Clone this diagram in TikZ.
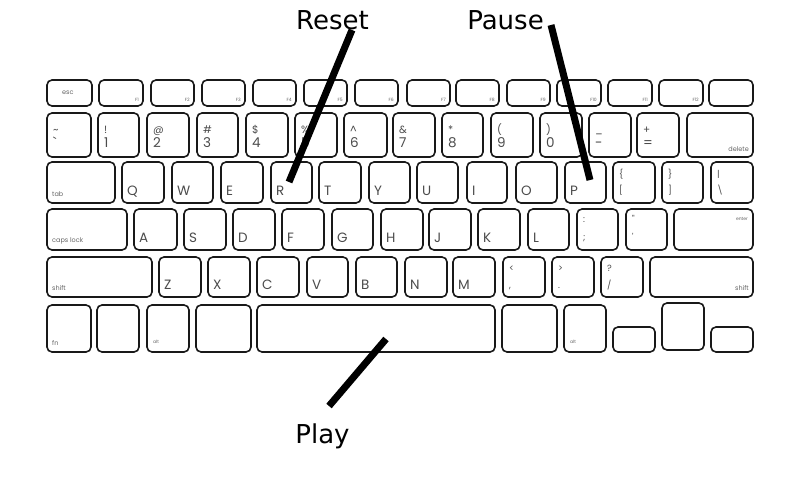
\documentclass[tikz,border=0pt]{standalone}
\usepackage{fontspec}
\newfontfamily\capfont{Poppins}
\newfontfamily\tagfont{DejaVu Sans}
\usetikzlibrary{positioning,backgrounds}
\pgfdeclarelayer{edgelayer}
\pgfdeclarelayer{nodelayer}
\pgfsetlayers{background,edgelayer,nodelayer,main}
\tikzstyle{none}=[inner sep=0mm]
\tikzstyle{key}=[draw=black!90,line width=1.6pt,rounded corners=5pt,inner sep=0pt,outer sep=0pt,fill=white]
\tikzstyle{letter}=[inner sep=0pt,font=\capfont\fontsize{13.5}{14}\selectfont,text=black!70,anchor=base west]
\tikzstyle{upper}=[letter,font=\capfont\fontsize{10.5}{11}\selectfont]
\tikzstyle{sym}=[letter,font=\capfont\fontsize{9}{9}\selectfont]
\tikzstyle{tiny}=[inner sep=0pt,font=\capfont\fontsize{4.5}{5}\selectfont,text=black!60]
\tikzstyle{mod}=[tiny,font=\capfont\fontsize{6.5}{7}\selectfont]
\tikzstyle{tag}=[inner sep=0pt,font=\tagfont\fontsize{26}{26}\selectfont,anchor=base]
\tikzstyle{pointer}=[line width=7pt,draw=black]

\begin{document}
\begin{tikzpicture}[x=1pt,y=-1pt]
	\useasboundingbox (0,0) rectangle (799,500);
	\begin{pgfonlayer}{background}
		\fill [white] (0,0) rectangle (799,500);
	\end{pgfonlayer}
	\begin{pgfonlayer}{nodelayer}
		% function row
		\node [style=key,minimum width=45pt,minimum height=26pt] (esc) at (69.5,93) {};
		\node [style=mod,anchor=west] at ([xshift=15pt]esc.west) {esc};
		\foreach \n/\a/\b in {1/99/143,2/151/194,3/202/245,4/253/296,5/304/347,6/355/398,
			7/407/450,8/456/499,9/507/550,10/557/601,11/608/652,12/659/703} {
			\node [style=key,minimum width={(\b-\a)*1pt},minimum height=26pt] (f\n) at ({(\a+\b)/2},93) {};
			\node [style=tiny,anchor=south east] at ([xshift=-4pt,yshift=4pt]f\n.south east) {F\n};
		}
		\node [style=key,minimum width=44pt,minimum height=26pt] (eject) at (731,93) {};
		% number row
		\foreach \n/\a/\b/\u/\l in {0/47/91/\textasciitilde/\textasciigrave,1/98/139/!/1,2/147/189/@/2,
			3/197/238/\#/3,4/246/288/\$/4,5/295/337/\%/5,6/344/387/\textasciicircum/6,7/393/435/\&/7,
			8/442/483/*/8,9/491/533/(/9,10/540/582/)/0,11/589/631/\_/-,12/637/679/+/=} {
			\node [style=key,minimum width={(\b-\a)*1pt},minimum height=44pt] (d\n) at ({(\a+\b)/2},135) {};
			\node [style=upper] at ([xshift=6pt,yshift=-20pt]d\n.north west) {\u};
			\node [style=letter] at ([xshift=6pt,yshift=10pt]d\n.south west) {\l};
		}
		\node [style=key,minimum width=66pt,minimum height=44pt] (delete) at (720,135) {};
		\node [style=mod,anchor=south east] at ([xshift=-4pt,yshift=5pt]delete.south east) {delete};
		% top letter row
		\node [style=key,minimum width=68pt,minimum height=41pt] (tab) at (81,182.5) {};
		\node [style=mod,anchor=south west] at ([xshift=5pt,yshift=6pt]tab.south west) {tab};
		\foreach \n/\a/\b in {Q/122/164,W/172/213,E/221/263,R/271/312,T/319/361,Y/369/410,
			U/417/458,I/467/507,O/516/557,P/565/606} {
			\node [style=key,minimum width={(\b-\a)*1pt},minimum height=41pt] (k\n) at ({(\a+\b)/2},182.5) {};
			\node [style=letter] at ([xshift=5pt,yshift=8pt]k\n.south west) {\n};
		}
		\foreach \n/\a/\b/\u/\l in {lb/613/655/{\{}/{[},rb/662/703/{\}}/{]},bs/711/753/\textbar/\textbackslash} {
			\node [style=key,minimum width={(\b-\a)*1pt},minimum height=41pt] (k\n) at ({(\a+\b)/2},182.5) {};
			\node [style=sym] at ([xshift=6pt,yshift=-15pt]k\n.north west) {\u};
			\node [style=sym] at ([xshift=6pt,yshift=10pt]k\n.south west) {\l};
		}
		% home row
		\node [style=key,minimum width=80pt,minimum height=41pt] (caps) at (87,229.5) {};
		\node [style=mod,anchor=south west] at ([xshift=5pt,yshift=6pt]caps.south west) {caps lock};
		\foreach \n/\a/\b in {A/134/177,S/184/226,D/233/275,F/282/324,G/332/373,H/381/423,
			J/429/471,K/478/520,L/528/569} {
			\node [style=key,minimum width={(\b-\a)*1pt},minimum height=41pt] (k\n) at ({(\a+\b)/2},229.5) {};
			\node [style=letter] at ([xshift=5pt,yshift=8pt]k\n.south west) {\n};
		}
		\foreach \n/\a/\b/\u/\l in {sc/577/618/:/;,qt/626/667/\textquotedbl/{'}} {
			\node [style=key,minimum width={(\b-\a)*1pt},minimum height=41pt] (k\n) at ({(\a+\b)/2},229.5) {};
			\node [style=sym] at ([xshift=6pt,yshift=-13pt]k\n.north west) {\u};
			\node [style=sym] at ([xshift=6pt,yshift=10pt]k\n.south west) {\l};
		}
		\node [style=key,minimum width=79pt,minimum height=41pt] (enter) at (713.5,229.5) {};
		\node [style=tiny,anchor=north east] at ([xshift=-5pt,yshift=-8pt]enter.north east) {enter};
		% bottom letter row
		\node [style=key,minimum width=105pt,minimum height=40pt] (lshift) at (99.5,277) {};
		\node [style=mod,anchor=south west] at ([xshift=5pt,yshift=6pt]lshift.south west) {shift};
		\foreach \n/\a/\b in {Z/159/201,X/208/250,C/257/299,V/307/348,B/356/397,N/405/447,M/453/495} {
			\node [style=key,minimum width={(\b-\a)*1pt},minimum height=40pt] (k\n) at ({(\a+\b)/2},277) {};
			\node [style=letter] at ([xshift=5pt,yshift=8pt]k\n.south west) {\n};
		}
		\foreach \n/\a/\b/\u/\l in {lt/503/545/{<}/{,},gt/552/594/{>}/{.},qm/601/643/{?}/{/}} {
			\node [style=key,minimum width={(\b-\a)*1pt},minimum height=40pt] (k\n) at ({(\a+\b)/2},277) {};
			\node [style=sym] at ([xshift=6pt,yshift=-14pt]k\n.north west) {\u};
			\node [style=sym] at ([xshift=6pt,yshift=9pt]k\n.south west) {\l};
		}
		\node [style=key,minimum width=103pt,minimum height=40pt] (rshift) at (701.5,277) {};
		\node [style=mod,anchor=south east] at ([xshift=-4pt,yshift=6pt]rshift.south east) {shift};
		% space row
		\node [style=key,minimum width=44pt,minimum height=47pt] (fn) at (69,328.5) {};
		\node [style=mod,anchor=south west] at ([xshift=5pt,yshift=6pt]fn.south west) {fn};
		\node [style=key,minimum width=42pt,minimum height=47pt] (ctrl) at (118,328.5) {};
		\node [style=key,minimum width=42pt,minimum height=47pt] (lalt) at (168,328.5) {};
		\node [style=tiny,anchor=south west] at ([xshift=6pt,yshift=8pt]lalt.south west) {alt};
		\node [style=key,minimum width=55pt,minimum height=47pt] (lcmd) at (223.5,328.5) {};
		\node [style=key,minimum width=238pt,minimum height=47pt] (space) at (376,328.5) {};
		\node [style=key,minimum width=55pt,minimum height=47pt] (rcmd) at (529.5,328.5) {};
		\node [style=key,minimum width=42pt,minimum height=47pt] (ralt) at (585,328.5) {};
		\node [style=tiny,anchor=south west] at ([xshift=6pt,yshift=8pt]ralt.south west) {alt};
		\node [style=key,minimum width=42pt,minimum height=25pt] (left) at (634,339.5) {};
		\node [style=key,minimum width=42pt,minimum height=47pt] (up) at (683,326.5) {};
		\node [style=key,minimum width=42pt,minimum height=25pt] (right) at (732,339.5) {};
	\end{pgfonlayer}
	% labels and pointers
	\node [style=tag] (reset) at (332.5,30) {Reset};
	\node [style=tag] (pause) at (505.5,30) {Pause};
	\node [style=tag] (play) at (322.5,443) {Play};
	\draw [style=pointer] ([xshift=19.5pt]reset.base) to ([xshift=18pt,yshift=21pt]kR.south west);
	\draw [style=pointer] ([xshift=45.5pt,yshift=5pt]pause.base) to ([xshift=25pt,yshift=23pt]kP.south west);
	\draw [style=pointer] ([xshift=6.5pt,yshift=37pt]play.base) to ([xshift=129pt,yshift=13pt]space.south west);
\end{tikzpicture}
\end{document}
